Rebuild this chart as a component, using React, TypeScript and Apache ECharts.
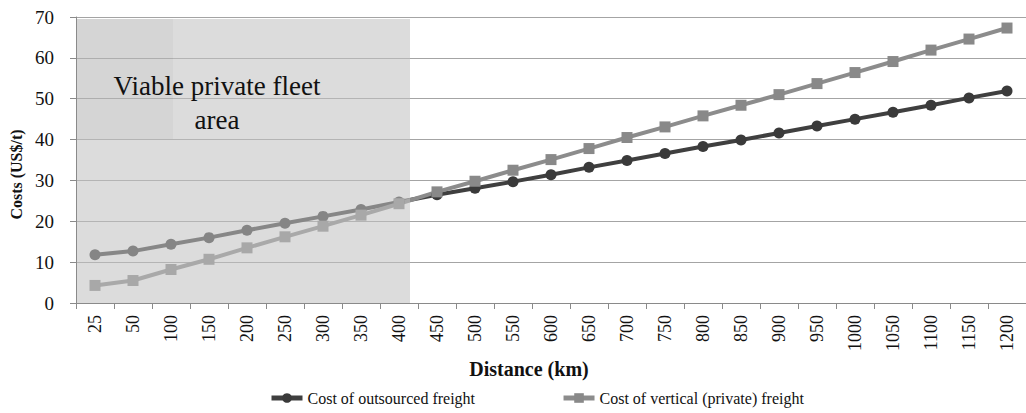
import React, { useEffect, useRef } from "react";
import * as echarts from "echarts";

const categories = ["25", "50", "100", "150", "200", "250", "300", "350", "400", "450", "500", "550", "600", "650", "700", "750", "800", "850", "900", "950", "1000", "1050", "1100", "1150", "1200"];
const outsourced = [11.8, 12.7, 14.4, 16.0, 17.8, 19.5, 21.2, 22.9, 24.7, 26.5, 28.1, 29.7, 31.4, 33.2, 34.9, 36.6, 38.3, 39.9, 41.6, 43.3, 45.0, 46.7, 48.4, 50.2, 51.9];
const vertical = [4.3, 5.5, 8.2, 10.7, 13.5, 16.2, 18.8, 21.5, 24.3, 27.2, 29.8, 32.5, 35.1, 37.8, 40.5, 43.1, 45.8, 48.4, 51.0, 53.7, 56.4, 59.1, 61.9, 64.6, 67.3];
const yTicks = { min: 0, max: 70, interval: 10 };
const seriesNames = ["Cost of outsourced freight", "Cost of vertical (private) freight"];
const areaLabel = "Viable private fleet\narea";

const FONT = "Liberation Serif";

export default function App() {
  const ref = useRef<HTMLDivElement>(null);
  useEffect(() => {
    document.body.style.margin = "0";
    if (!ref.current) return;
    const chart = echarts.init(ref.current, undefined, { renderer: "svg" });
    const gridLeft = 76;
    const gridTop = 17;
    const gridW = 961;
    const gridH = 286;
    chart.setOption({
      animation: false,
      backgroundColor: "#ffffff",
      textStyle: { fontFamily: FONT },
      grid: { left: gridLeft, top: gridTop, width: gridW, height: gridH },
      legend: {
        left: 264,
        top: 385,
        itemWidth: 31,
        itemHeight: 12,
        itemGap: 86,
        lineStyle: { width: 5 },
        textStyle: { fontFamily: FONT, fontSize: 16, color: "#111" },
        data: seriesNames,
      },
      xAxis: {
        type: "category",
        data: categories,
        boundaryGap: true,
        name: "Distance (km)",
        nameLocation: "middle",
        nameGap: 55,
        nameTextStyle: { fontFamily: FONT, fontSize: 20, fontWeight: "bold", color: "#111", padding: [0, 44, 0, 0] },
        axisLine: { lineStyle: { color: "#8a8a8a", width: 1 } },
        axisTick: { show: true, length: 6, lineStyle: { color: "#8a8a8a" } },
        axisLabel: { rotate: 90, fontFamily: FONT, fontSize: 18, color: "#111", margin: 12, interval: 0 },
        splitLine: { show: false },
      },
      yAxis: {
        type: "value",
        min: yTicks.min,
        max: yTicks.max,
        interval: yTicks.interval,
        name: "Costs (US$/t)",
        nameLocation: "middle",
        nameRotate: 90,
        nameGap: 42,
        nameTextStyle: { fontFamily: FONT, fontSize: 16, fontWeight: "bold", color: "#111", padding: [0, 29, 0, 0] },
        axisLine: { show: true, lineStyle: { color: "#8a8a8a", width: 1 } },
        axisTick: { show: true, length: 6, lineStyle: { color: "#8a8a8a" } },
        axisLabel: { fontFamily: FONT, fontSize: 19, color: "#111", margin: 22 },
        splitLine: { show: true, lineStyle: { color: "#a4a4a4", width: 1 } },
      },
      series: [
        {
          name: seriesNames[0],
          type: "line",
          data: outsourced,
          symbol: "circle",
          symbolSize: 11,
          lineStyle: { color: "#3f3f3f", width: 4 },
          itemStyle: { color: "#3a3a3a" },
        },
        {
          name: seriesNames[1],
          type: "line",
          data: vertical,
          symbol: "rect",
          symbolSize: 11,
          lineStyle: { color: "#8c8c8c", width: 4 },
          itemStyle: { color: "#898989" },
        },
      ],
      graphic: [
        {
          type: "rect",
          z: 100,
          shape: { x: 77, y: 19, width: 333, height: gridTop + gridH - 19 },
          style: { fill: "rgba(193,193,193,0.56)" },
          silent: true,
        },
        {
          type: "rect",
          z: 101,
          shape: { x: 77, y: 19, width: 96, height: 120 },
          style: { fill: "rgba(0,0,0,0.03)" },
          silent: true,
        },
        {
          type: "text",
          z: 102,
          x: 217,
          y: 69,
          style: {
            text: areaLabel,
            fontFamily: FONT,
            fontSize: 27,
            align: "center",
            verticalAlign: "top",
            lineHeight: 34,
            fill: "#111",
          },
          silent: true,
        },
      ],
    });
    return () => chart.dispose();
  }, []);
  return <div ref={ref} style={{ width: 1026, height: 413 }} />;
}
